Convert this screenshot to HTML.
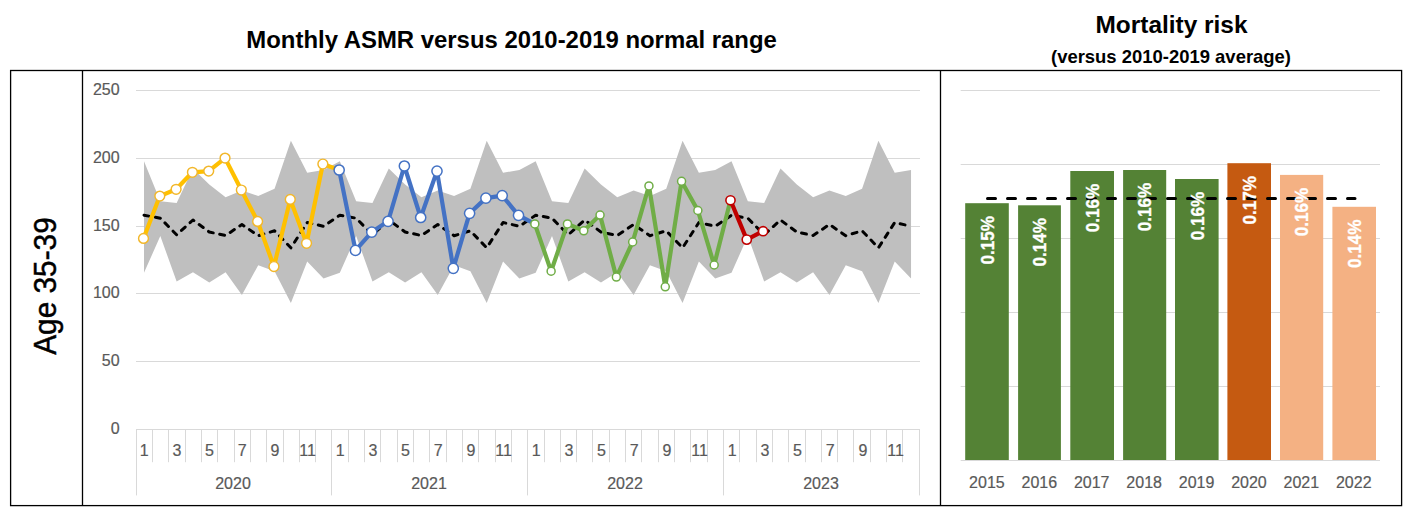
<!DOCTYPE html>
<html><head><meta charset="utf-8"><title>Monthly ASMR</title>
<style>
html,body{margin:0;padding:0;background:#fff;width:1410px;height:513px;overflow:hidden}
svg{display:block}
text{font-family:"Liberation Sans", sans-serif}
</style></head><body>
<svg width="1410" height="513" viewBox="0 0 1410 513">

<text x="511.6" y="48" font-size="24" font-weight="bold" text-anchor="middle" fill="#000" textLength="530.5" lengthAdjust="spacingAndGlyphs">Monthly ASMR versus 2010-2019 normal range</text>
<text x="1171.5" y="32.8" font-size="23" font-weight="bold" text-anchor="middle" fill="#000" textLength="152" lengthAdjust="spacingAndGlyphs">Mortality risk</text>
<text x="1171" y="63.2" font-size="18.5" font-weight="bold" text-anchor="middle" fill="#000" textLength="240" lengthAdjust="spacingAndGlyphs">(versus 2010-2019 average)</text>
<text transform="translate(55.8,286.0) rotate(-90)" x="0" y="0" font-size="30.5" text-anchor="middle" fill="#000" stroke="#000" stroke-width="0.45" textLength="137.5" lengthAdjust="spacingAndGlyphs">Age 35-39</text>
<line x1="136.0" y1="361.50" x2="920.0" y2="361.50" stroke="#D9D9D9" stroke-width="1"/>
<text x="119.6" y="365.80" font-size="16" text-anchor="end" fill="#595959" stroke="#595959" stroke-width="0.2">50</text>
<line x1="136.0" y1="293.50" x2="920.0" y2="293.50" stroke="#D9D9D9" stroke-width="1"/>
<text x="119.6" y="297.80" font-size="16" text-anchor="end" fill="#595959" stroke="#595959" stroke-width="0.2">100</text>
<line x1="136.0" y1="226.50" x2="920.0" y2="226.50" stroke="#D9D9D9" stroke-width="1"/>
<text x="119.6" y="230.80" font-size="16" text-anchor="end" fill="#595959" stroke="#595959" stroke-width="0.2">150</text>
<line x1="136.0" y1="158.50" x2="920.0" y2="158.50" stroke="#D9D9D9" stroke-width="1"/>
<text x="119.6" y="162.80" font-size="16" text-anchor="end" fill="#595959" stroke="#595959" stroke-width="0.2">200</text>
<line x1="136.0" y1="90.50" x2="920.0" y2="90.50" stroke="#D9D9D9" stroke-width="1"/>
<text x="119.6" y="94.80" font-size="16" text-anchor="end" fill="#595959" stroke="#595959" stroke-width="0.2">250</text>
<text x="119.6" y="433.80" font-size="16" text-anchor="end" fill="#595959" stroke="#595959" stroke-width="0.2">0</text>
<polygon points="144.00,161.30 160.32,201.20 176.64,203.00 192.96,168.50 209.28,184.50 225.60,197.20 241.92,190.60 258.24,196.00 274.56,188.80 290.88,140.80 307.20,172.80 323.52,170.00 339.84,161.30 356.16,201.20 372.48,203.00 388.80,168.50 405.12,184.50 421.44,197.20 437.76,190.60 454.08,196.00 470.40,188.80 486.72,140.80 503.04,172.80 519.36,170.00 535.68,161.30 552.00,201.20 568.32,203.00 584.64,168.50 600.96,184.50 617.28,197.20 633.60,190.60 649.92,196.00 666.24,188.80 682.56,140.80 698.88,172.80 715.20,170.00 731.52,161.30 747.84,201.20 764.16,203.00 780.48,168.50 796.80,184.50 813.12,197.20 829.44,190.60 845.76,196.00 862.08,188.80 878.40,140.80 894.72,172.80 911.04,170.00 911.04,278.50 894.72,261.50 878.40,303.00 862.08,271.30 845.76,265.20 829.44,295.00 813.12,272.20 796.80,282.50 780.48,272.20 764.16,281.50 747.84,236.00 731.52,272.80 715.20,278.50 698.88,261.50 682.56,303.00 666.24,271.30 649.92,265.20 633.60,295.00 617.28,272.20 600.96,282.50 584.64,272.20 568.32,281.50 552.00,236.00 535.68,272.80 519.36,278.50 503.04,261.50 486.72,303.00 470.40,271.30 454.08,265.20 437.76,295.00 421.44,272.20 405.12,282.50 388.80,272.20 372.48,281.50 356.16,236.00 339.84,272.80 323.52,278.50 307.20,261.50 290.88,303.00 274.56,271.30 258.24,265.20 241.92,295.00 225.60,272.20 209.28,282.50 192.96,272.20 176.64,281.50 160.32,236.00 144.00,272.80" fill="#BFBFBF"/>
<line x1="136.0" y1="429.5" x2="920.0" y2="429.5" stroke="#D9D9D9" stroke-width="1"/>
<line x1="136.50" y1="429" x2="136.50" y2="495.4" stroke="#D9D9D9" stroke-width="1"/>
<line x1="152.50" y1="429" x2="152.50" y2="462.2" stroke="#D9D9D9" stroke-width="1"/>
<line x1="168.50" y1="429" x2="168.50" y2="462.2" stroke="#D9D9D9" stroke-width="1"/>
<line x1="185.50" y1="429" x2="185.50" y2="462.2" stroke="#D9D9D9" stroke-width="1"/>
<line x1="201.50" y1="429" x2="201.50" y2="462.2" stroke="#D9D9D9" stroke-width="1"/>
<line x1="217.50" y1="429" x2="217.50" y2="462.2" stroke="#D9D9D9" stroke-width="1"/>
<line x1="234.50" y1="429" x2="234.50" y2="462.2" stroke="#D9D9D9" stroke-width="1"/>
<line x1="250.50" y1="429" x2="250.50" y2="462.2" stroke="#D9D9D9" stroke-width="1"/>
<line x1="266.50" y1="429" x2="266.50" y2="462.2" stroke="#D9D9D9" stroke-width="1"/>
<line x1="283.50" y1="429" x2="283.50" y2="462.2" stroke="#D9D9D9" stroke-width="1"/>
<line x1="299.50" y1="429" x2="299.50" y2="462.2" stroke="#D9D9D9" stroke-width="1"/>
<line x1="315.50" y1="429" x2="315.50" y2="462.2" stroke="#D9D9D9" stroke-width="1"/>
<line x1="331.50" y1="429" x2="331.50" y2="495.4" stroke="#D9D9D9" stroke-width="1"/>
<line x1="348.50" y1="429" x2="348.50" y2="462.2" stroke="#D9D9D9" stroke-width="1"/>
<line x1="364.50" y1="429" x2="364.50" y2="462.2" stroke="#D9D9D9" stroke-width="1"/>
<line x1="380.50" y1="429" x2="380.50" y2="462.2" stroke="#D9D9D9" stroke-width="1"/>
<line x1="397.50" y1="429" x2="397.50" y2="462.2" stroke="#D9D9D9" stroke-width="1"/>
<line x1="413.50" y1="429" x2="413.50" y2="462.2" stroke="#D9D9D9" stroke-width="1"/>
<line x1="429.50" y1="429" x2="429.50" y2="462.2" stroke="#D9D9D9" stroke-width="1"/>
<line x1="446.50" y1="429" x2="446.50" y2="462.2" stroke="#D9D9D9" stroke-width="1"/>
<line x1="462.50" y1="429" x2="462.50" y2="462.2" stroke="#D9D9D9" stroke-width="1"/>
<line x1="478.50" y1="429" x2="478.50" y2="462.2" stroke="#D9D9D9" stroke-width="1"/>
<line x1="495.50" y1="429" x2="495.50" y2="462.2" stroke="#D9D9D9" stroke-width="1"/>
<line x1="511.50" y1="429" x2="511.50" y2="462.2" stroke="#D9D9D9" stroke-width="1"/>
<line x1="527.50" y1="429" x2="527.50" y2="495.4" stroke="#D9D9D9" stroke-width="1"/>
<line x1="544.50" y1="429" x2="544.50" y2="462.2" stroke="#D9D9D9" stroke-width="1"/>
<line x1="560.50" y1="429" x2="560.50" y2="462.2" stroke="#D9D9D9" stroke-width="1"/>
<line x1="576.50" y1="429" x2="576.50" y2="462.2" stroke="#D9D9D9" stroke-width="1"/>
<line x1="592.50" y1="429" x2="592.50" y2="462.2" stroke="#D9D9D9" stroke-width="1"/>
<line x1="609.50" y1="429" x2="609.50" y2="462.2" stroke="#D9D9D9" stroke-width="1"/>
<line x1="625.50" y1="429" x2="625.50" y2="462.2" stroke="#D9D9D9" stroke-width="1"/>
<line x1="641.50" y1="429" x2="641.50" y2="462.2" stroke="#D9D9D9" stroke-width="1"/>
<line x1="658.50" y1="429" x2="658.50" y2="462.2" stroke="#D9D9D9" stroke-width="1"/>
<line x1="674.50" y1="429" x2="674.50" y2="462.2" stroke="#D9D9D9" stroke-width="1"/>
<line x1="690.50" y1="429" x2="690.50" y2="462.2" stroke="#D9D9D9" stroke-width="1"/>
<line x1="707.50" y1="429" x2="707.50" y2="462.2" stroke="#D9D9D9" stroke-width="1"/>
<line x1="723.50" y1="429" x2="723.50" y2="495.4" stroke="#D9D9D9" stroke-width="1"/>
<line x1="739.50" y1="429" x2="739.50" y2="462.2" stroke="#D9D9D9" stroke-width="1"/>
<line x1="756.50" y1="429" x2="756.50" y2="462.2" stroke="#D9D9D9" stroke-width="1"/>
<line x1="772.50" y1="429" x2="772.50" y2="462.2" stroke="#D9D9D9" stroke-width="1"/>
<line x1="788.50" y1="429" x2="788.50" y2="462.2" stroke="#D9D9D9" stroke-width="1"/>
<line x1="805.50" y1="429" x2="805.50" y2="462.2" stroke="#D9D9D9" stroke-width="1"/>
<line x1="821.50" y1="429" x2="821.50" y2="462.2" stroke="#D9D9D9" stroke-width="1"/>
<line x1="837.50" y1="429" x2="837.50" y2="462.2" stroke="#D9D9D9" stroke-width="1"/>
<line x1="853.50" y1="429" x2="853.50" y2="462.2" stroke="#D9D9D9" stroke-width="1"/>
<line x1="870.50" y1="429" x2="870.50" y2="462.2" stroke="#D9D9D9" stroke-width="1"/>
<line x1="886.50" y1="429" x2="886.50" y2="462.2" stroke="#D9D9D9" stroke-width="1"/>
<line x1="902.50" y1="429" x2="902.50" y2="462.2" stroke="#D9D9D9" stroke-width="1"/>
<line x1="919.50" y1="429" x2="919.50" y2="495.4" stroke="#D9D9D9" stroke-width="1"/>
<text x="144.17" y="456.2" font-size="16" text-anchor="middle" fill="#595959" stroke="#595959" stroke-width="0.2">1</text>
<text x="176.83" y="456.2" font-size="16" text-anchor="middle" fill="#595959" stroke="#595959" stroke-width="0.2">3</text>
<text x="209.50" y="456.2" font-size="16" text-anchor="middle" fill="#595959" stroke="#595959" stroke-width="0.2">5</text>
<text x="242.17" y="456.2" font-size="16" text-anchor="middle" fill="#595959" stroke="#595959" stroke-width="0.2">7</text>
<text x="274.83" y="456.2" font-size="16" text-anchor="middle" fill="#595959" stroke="#595959" stroke-width="0.2">9</text>
<text x="307.50" y="456.2" font-size="16" text-anchor="middle" fill="#595959" stroke="#595959" stroke-width="0.2">11</text>
<text x="340.17" y="456.2" font-size="16" text-anchor="middle" fill="#595959" stroke="#595959" stroke-width="0.2">1</text>
<text x="372.83" y="456.2" font-size="16" text-anchor="middle" fill="#595959" stroke="#595959" stroke-width="0.2">3</text>
<text x="405.50" y="456.2" font-size="16" text-anchor="middle" fill="#595959" stroke="#595959" stroke-width="0.2">5</text>
<text x="438.17" y="456.2" font-size="16" text-anchor="middle" fill="#595959" stroke="#595959" stroke-width="0.2">7</text>
<text x="470.83" y="456.2" font-size="16" text-anchor="middle" fill="#595959" stroke="#595959" stroke-width="0.2">9</text>
<text x="503.50" y="456.2" font-size="16" text-anchor="middle" fill="#595959" stroke="#595959" stroke-width="0.2">11</text>
<text x="536.17" y="456.2" font-size="16" text-anchor="middle" fill="#595959" stroke="#595959" stroke-width="0.2">1</text>
<text x="568.83" y="456.2" font-size="16" text-anchor="middle" fill="#595959" stroke="#595959" stroke-width="0.2">3</text>
<text x="601.50" y="456.2" font-size="16" text-anchor="middle" fill="#595959" stroke="#595959" stroke-width="0.2">5</text>
<text x="634.17" y="456.2" font-size="16" text-anchor="middle" fill="#595959" stroke="#595959" stroke-width="0.2">7</text>
<text x="666.83" y="456.2" font-size="16" text-anchor="middle" fill="#595959" stroke="#595959" stroke-width="0.2">9</text>
<text x="699.50" y="456.2" font-size="16" text-anchor="middle" fill="#595959" stroke="#595959" stroke-width="0.2">11</text>
<text x="732.17" y="456.2" font-size="16" text-anchor="middle" fill="#595959" stroke="#595959" stroke-width="0.2">1</text>
<text x="764.83" y="456.2" font-size="16" text-anchor="middle" fill="#595959" stroke="#595959" stroke-width="0.2">3</text>
<text x="797.50" y="456.2" font-size="16" text-anchor="middle" fill="#595959" stroke="#595959" stroke-width="0.2">5</text>
<text x="830.17" y="456.2" font-size="16" text-anchor="middle" fill="#595959" stroke="#595959" stroke-width="0.2">7</text>
<text x="862.83" y="456.2" font-size="16" text-anchor="middle" fill="#595959" stroke="#595959" stroke-width="0.2">9</text>
<text x="895.50" y="456.2" font-size="16" text-anchor="middle" fill="#595959" stroke="#595959" stroke-width="0.2">11</text>
<text x="233.00" y="488.7" font-size="16" text-anchor="middle" fill="#595959" stroke="#595959" stroke-width="0.2">2020</text>
<text x="429.00" y="488.7" font-size="16" text-anchor="middle" fill="#595959" stroke="#595959" stroke-width="0.2">2021</text>
<text x="625.00" y="488.7" font-size="16" text-anchor="middle" fill="#595959" stroke="#595959" stroke-width="0.2">2022</text>
<text x="821.00" y="488.7" font-size="16" text-anchor="middle" fill="#595959" stroke="#595959" stroke-width="0.2">2023</text>
<polyline points="144.00,215.20 160.32,218.20 176.64,234.80 192.96,220.00 209.28,232.00 225.60,235.50 241.92,224.50 258.24,235.70 274.56,230.80 290.88,247.80 307.20,222.50 323.52,226.30 339.84,215.20 356.16,218.20 372.48,234.80 388.80,220.00 405.12,232.00 421.44,235.50 437.76,224.50 454.08,235.70 470.40,230.80 486.72,247.80 503.04,222.50 519.36,226.30 535.68,215.20 552.00,218.20 568.32,234.80 584.64,220.00 600.96,232.00 617.28,235.50 633.60,224.50 649.92,235.70 666.24,230.80 682.56,247.80 698.88,222.50 715.20,226.30 731.52,215.20 747.84,218.20 764.16,234.80 780.48,220.00 796.80,232.00 813.12,235.50 829.44,224.50 845.76,235.70 862.08,230.80 878.40,247.80 894.72,222.50 911.04,226.30" fill="none" stroke="#000" stroke-width="3" stroke-dasharray="5 6.6" stroke-linecap="round" stroke-linejoin="round"/>
<polyline points="143.50,238.40 159.81,196.10 176.11,189.30 192.41,172.30 208.72,171.10 225.03,158.10 241.33,190.00 257.63,221.40 273.94,266.50 290.25,199.40 306.55,243.30 322.86,164.00 339.16,170.00" fill="none" stroke="#FFC000" stroke-width="4.2" stroke-linejoin="round" stroke-linecap="round"/>
<circle cx="143.50" cy="238.40" r="4.9" fill="#fff" stroke="#F2B72B" stroke-width="1.45"/>
<circle cx="159.81" cy="196.10" r="4.9" fill="#fff" stroke="#F2B72B" stroke-width="1.45"/>
<circle cx="176.11" cy="189.30" r="4.9" fill="#fff" stroke="#F2B72B" stroke-width="1.45"/>
<circle cx="192.41" cy="172.30" r="4.9" fill="#fff" stroke="#F2B72B" stroke-width="1.45"/>
<circle cx="208.72" cy="171.10" r="4.9" fill="#fff" stroke="#F2B72B" stroke-width="1.45"/>
<circle cx="225.03" cy="158.10" r="4.9" fill="#fff" stroke="#F2B72B" stroke-width="1.45"/>
<circle cx="241.33" cy="190.00" r="4.9" fill="#fff" stroke="#F2B72B" stroke-width="1.45"/>
<circle cx="257.63" cy="221.40" r="4.9" fill="#fff" stroke="#F2B72B" stroke-width="1.45"/>
<circle cx="273.94" cy="266.50" r="4.9" fill="#fff" stroke="#F2B72B" stroke-width="1.45"/>
<circle cx="290.25" cy="199.40" r="4.9" fill="#fff" stroke="#F2B72B" stroke-width="1.45"/>
<circle cx="306.55" cy="243.30" r="4.9" fill="#fff" stroke="#F2B72B" stroke-width="1.45"/>
<circle cx="322.86" cy="164.00" r="4.9" fill="#fff" stroke="#F2B72B" stroke-width="1.45"/>
<polyline points="339.16,170.00 355.47,250.40 371.77,232.10 388.07,221.30 404.38,166.00 420.69,217.50 436.99,171.10 453.30,268.30 469.60,213.30 485.90,198.10 502.21,195.60 518.51,215.30 534.82,223.90" fill="none" stroke="#4472C4" stroke-width="4.2" stroke-linejoin="round" stroke-linecap="round"/>
<circle cx="339.16" cy="170.00" r="5.1" fill="#fff" stroke="#4472C4" stroke-width="1.5"/>
<circle cx="355.47" cy="250.40" r="5.1" fill="#fff" stroke="#4472C4" stroke-width="1.5"/>
<circle cx="371.77" cy="232.10" r="5.1" fill="#fff" stroke="#4472C4" stroke-width="1.5"/>
<circle cx="388.07" cy="221.30" r="5.1" fill="#fff" stroke="#4472C4" stroke-width="1.5"/>
<circle cx="404.38" cy="166.00" r="5.1" fill="#fff" stroke="#4472C4" stroke-width="1.5"/>
<circle cx="420.69" cy="217.50" r="5.1" fill="#fff" stroke="#4472C4" stroke-width="1.5"/>
<circle cx="436.99" cy="171.10" r="5.1" fill="#fff" stroke="#4472C4" stroke-width="1.5"/>
<circle cx="453.30" cy="268.30" r="5.1" fill="#fff" stroke="#4472C4" stroke-width="1.5"/>
<circle cx="469.60" cy="213.30" r="5.1" fill="#fff" stroke="#4472C4" stroke-width="1.5"/>
<circle cx="485.90" cy="198.10" r="5.1" fill="#fff" stroke="#4472C4" stroke-width="1.5"/>
<circle cx="502.21" cy="195.60" r="5.1" fill="#fff" stroke="#4472C4" stroke-width="1.5"/>
<circle cx="518.51" cy="215.30" r="5.1" fill="#fff" stroke="#4472C4" stroke-width="1.5"/>
<polyline points="534.82,223.90 551.12,271.20 567.43,223.90 583.74,230.80 600.04,215.10 616.35,277.10 632.65,242.00 648.95,185.90 665.26,286.80 681.56,181.30 697.87,210.50 714.17,265.00 730.48,200.30" fill="none" stroke="#70AD47" stroke-width="4.2" stroke-linejoin="round" stroke-linecap="round"/>
<circle cx="534.82" cy="223.90" r="4.0" fill="#fff" stroke="#70AD47" stroke-width="1.5"/>
<circle cx="551.12" cy="271.20" r="4.0" fill="#fff" stroke="#70AD47" stroke-width="1.5"/>
<circle cx="567.43" cy="223.90" r="4.0" fill="#fff" stroke="#70AD47" stroke-width="1.5"/>
<circle cx="583.74" cy="230.80" r="4.0" fill="#fff" stroke="#70AD47" stroke-width="1.5"/>
<circle cx="600.04" cy="215.10" r="4.0" fill="#fff" stroke="#70AD47" stroke-width="1.5"/>
<circle cx="616.35" cy="277.10" r="4.0" fill="#fff" stroke="#70AD47" stroke-width="1.5"/>
<circle cx="632.65" cy="242.00" r="4.0" fill="#fff" stroke="#70AD47" stroke-width="1.5"/>
<circle cx="648.95" cy="185.90" r="4.0" fill="#fff" stroke="#70AD47" stroke-width="1.5"/>
<circle cx="665.26" cy="286.80" r="4.0" fill="#fff" stroke="#70AD47" stroke-width="1.5"/>
<circle cx="681.56" cy="181.30" r="4.0" fill="#fff" stroke="#70AD47" stroke-width="1.5"/>
<circle cx="697.87" cy="210.50" r="4.0" fill="#fff" stroke="#70AD47" stroke-width="1.5"/>
<circle cx="714.17" cy="265.00" r="4.0" fill="#fff" stroke="#70AD47" stroke-width="1.5"/>
<polyline points="730.48,200.30 746.78,239.60 763.09,231.20" fill="none" stroke="#C00000" stroke-width="4.2" stroke-linejoin="round" stroke-linecap="round"/>
<circle cx="730.48" cy="200.30" r="4.6" fill="#fff" stroke="#C00000" stroke-width="1.6"/>
<circle cx="746.78" cy="239.60" r="4.6" fill="#fff" stroke="#C00000" stroke-width="1.6"/>
<circle cx="763.09" cy="231.20" r="4.6" fill="#fff" stroke="#C00000" stroke-width="1.6"/>
<line x1="960.7" y1="90.50" x2="1380.0" y2="90.50" stroke="#D9D9D9" stroke-width="1"/>
<line x1="960.7" y1="164.50" x2="1380.0" y2="164.50" stroke="#D9D9D9" stroke-width="1"/>
<line x1="960.7" y1="238.50" x2="1380.0" y2="238.50" stroke="#D9D9D9" stroke-width="1"/>
<line x1="960.7" y1="312.50" x2="1380.0" y2="312.50" stroke="#D9D9D9" stroke-width="1"/>
<line x1="960.7" y1="386.50" x2="1380.0" y2="386.50" stroke="#D9D9D9" stroke-width="1"/>
<line x1="960.7" y1="460.5" x2="1380.0" y2="460.5" stroke="#D9D9D9" stroke-width="1"/>
<rect x="965.2" y="203.2" width="43.60" height="256.80" fill="#548235"/>
<rect x="1018.1" y="205.3" width="42.80" height="254.70" fill="#548235"/>
<rect x="1070.3" y="171.0" width="43.70" height="289.00" fill="#548235"/>
<rect x="1123.1" y="170.0" width="43.10" height="290.00" fill="#548235"/>
<rect x="1175.0" y="179.0" width="43.60" height="281.00" fill="#548235"/>
<rect x="1227.4" y="163.2" width="43.60" height="296.80" fill="#C55A11"/>
<rect x="1280.0" y="174.9" width="43.20" height="285.10" fill="#F4B183"/>
<rect x="1332.4" y="206.8" width="43.60" height="253.20" fill="#F4B183"/>
<line x1="987.5" y1="198.45" x2="1355" y2="198.45" stroke="#000" stroke-width="3" stroke-dasharray="8 12" stroke-linecap="round"/>
<text transform="translate(993.80,216.00) rotate(-90)" x="0" y="0" font-size="18.5" font-weight="bold" text-anchor="end" fill="#fff" stroke="#fff" stroke-width="0.35" textLength="48.5" lengthAdjust="spacingAndGlyphs">0.15%</text>
<text transform="translate(1046.30,218.10) rotate(-90)" x="0" y="0" font-size="18.5" font-weight="bold" text-anchor="end" fill="#fff" stroke="#fff" stroke-width="0.35" textLength="48.5" lengthAdjust="spacingAndGlyphs">0.14%</text>
<text transform="translate(1098.95,183.80) rotate(-90)" x="0" y="0" font-size="18.5" font-weight="bold" text-anchor="end" fill="#fff" stroke="#fff" stroke-width="0.35" textLength="48.5" lengthAdjust="spacingAndGlyphs">0.16%</text>
<text transform="translate(1151.45,182.80) rotate(-90)" x="0" y="0" font-size="18.5" font-weight="bold" text-anchor="end" fill="#fff" stroke="#fff" stroke-width="0.35" textLength="48.5" lengthAdjust="spacingAndGlyphs">0.16%</text>
<text transform="translate(1203.60,191.80) rotate(-90)" x="0" y="0" font-size="18.5" font-weight="bold" text-anchor="end" fill="#fff" stroke="#fff" stroke-width="0.35" textLength="48.5" lengthAdjust="spacingAndGlyphs">0.16%</text>
<text transform="translate(1256.00,176.00) rotate(-90)" x="0" y="0" font-size="18.5" font-weight="bold" text-anchor="end" fill="#fff" stroke="#fff" stroke-width="0.35" textLength="48.5" lengthAdjust="spacingAndGlyphs">0.17%</text>
<text transform="translate(1308.40,187.70) rotate(-90)" x="0" y="0" font-size="18.5" font-weight="bold" text-anchor="end" fill="#fff" stroke="#fff" stroke-width="0.35" textLength="48.5" lengthAdjust="spacingAndGlyphs">0.16%</text>
<text transform="translate(1361.00,219.60) rotate(-90)" x="0" y="0" font-size="18.5" font-weight="bold" text-anchor="end" fill="#fff" stroke="#fff" stroke-width="0.35" textLength="48.5" lengthAdjust="spacingAndGlyphs">0.14%</text>
<text x="986.91" y="488.0" font-size="16" text-anchor="middle" fill="#595959" stroke="#595959" stroke-width="0.2">2015</text>
<text x="1039.32" y="488.0" font-size="16" text-anchor="middle" fill="#595959" stroke="#595959" stroke-width="0.2">2016</text>
<text x="1091.72" y="488.0" font-size="16" text-anchor="middle" fill="#595959" stroke="#595959" stroke-width="0.2">2017</text>
<text x="1144.13" y="488.0" font-size="16" text-anchor="middle" fill="#595959" stroke="#595959" stroke-width="0.2">2018</text>
<text x="1196.55" y="488.0" font-size="16" text-anchor="middle" fill="#595959" stroke="#595959" stroke-width="0.2">2019</text>
<text x="1248.95" y="488.0" font-size="16" text-anchor="middle" fill="#595959" stroke="#595959" stroke-width="0.2">2020</text>
<text x="1301.37" y="488.0" font-size="16" text-anchor="middle" fill="#595959" stroke="#595959" stroke-width="0.2">2021</text>
<text x="1353.78" y="488.0" font-size="16" text-anchor="middle" fill="#595959" stroke="#595959" stroke-width="0.2">2022</text>
<rect x="10.6" y="70.5" width="1391" height="435.1" fill="none" stroke="#000" stroke-width="1.3"/>
<line x1="82.5" y1="70.5" x2="82.5" y2="505.6" stroke="#000" stroke-width="1.3"/>
<line x1="940.5" y1="70.5" x2="940.5" y2="505.6" stroke="#000" stroke-width="1.3"/>
</svg></body></html>
